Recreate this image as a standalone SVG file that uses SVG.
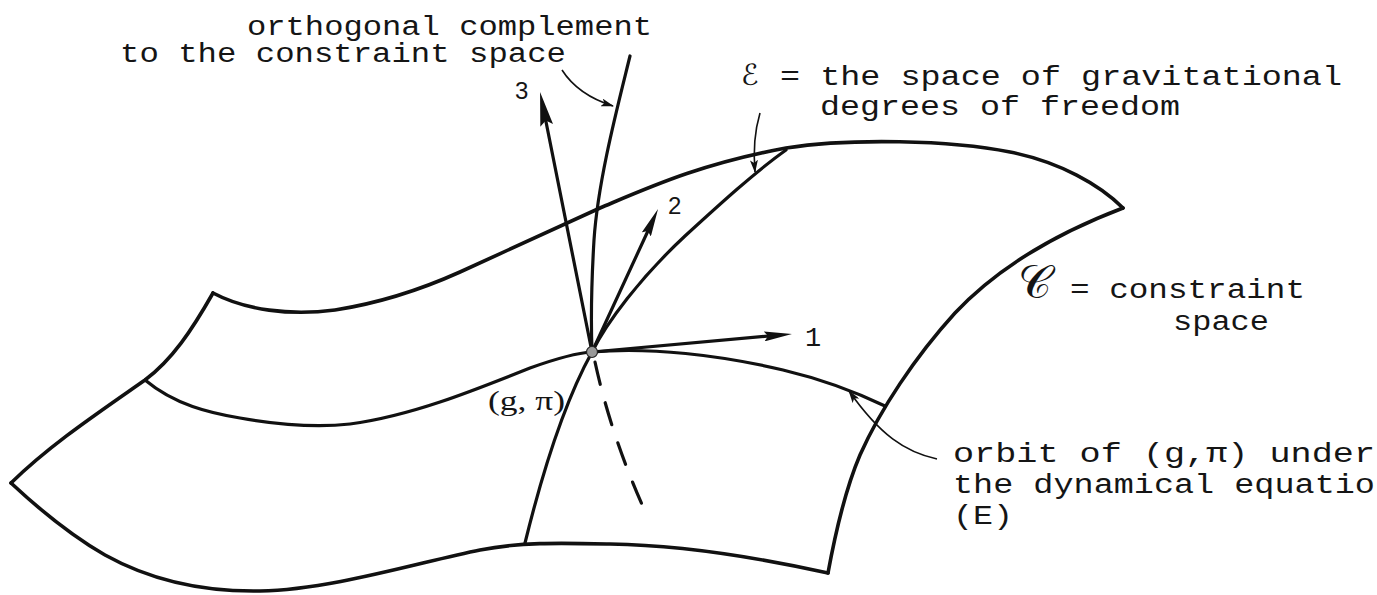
<svg xmlns="http://www.w3.org/2000/svg" width="1377" height="595" viewBox="0 0 1377 595">
<style>
.edge{fill:none;stroke:#111;stroke-width:3.6;stroke-linecap:round;stroke-linejoin:round}
.curve{fill:none;stroke:#111;stroke-width:3.2;stroke-linecap:round}
.vec{fill:none;stroke:#111;stroke-width:3.2;stroke-linecap:round}
.lead{fill:none;stroke:#111;stroke-width:1.6}
.tw{font-family:"Liberation Mono","DejaVu Sans Mono",monospace;font-size:27px;fill:#151515}
.num{font-family:"Liberation Sans","DejaVu Sans",sans-serif;font-size:24px;fill:#151515}
.ser{font-family:"Liberation Serif","DejaVu Serif",serif;font-size:28px;fill:#151515}
.scr{font-family:"DejaVu Serif","DejaVu Sans","Noto Sans",serif;fill:#151515}
</style>
<defs>
<marker id="ah" viewBox="0 0 28 10" markerUnits="userSpaceOnUse" markerWidth="28" markerHeight="10" refX="16" refY="5" orient="auto"><path d="M0,0 L28,5 L0,10 L4,5 z" fill="#111"/></marker>
<marker id="ahL" viewBox="0 0 34 13" markerUnits="userSpaceOnUse" markerWidth="34" markerHeight="13" refX="22" refY="6.5" orient="auto"><path d="M0,0 L34,6.5 L0,13 L5,6.5 z" fill="#111"/></marker>
<marker id="ahs" viewBox="0 0 13 8" markerUnits="userSpaceOnUse" markerWidth="13" markerHeight="8" refX="12" refY="4" orient="auto"><path d="M0,0 L13,4 L0,8 L3,4 z" fill="#111"/></marker>
</defs>
<g id="surface">
<path class="edge" d="M213,293 C245,310 290,316 335,310 C380,303 420,290 460,272 C520,245 560,226 600,208 C650,187 700,164 786,148 C850,138 950,140 1010,152 C1060,162 1100,185 1123,208"/>
<path class="edge" d="M1123,208 C1060,232 1000,265 955,313 C915,357 880,410 860,455 C845,490 835,535 828,573"/>
<path class="edge" d="M828,573 C760,558 680,545 610,544 C560,543 520,542 480,550 C420,562 330,590 260,591 C200,592 150,580 105,555 C70,535 40,510 11,483"/>
<path class="edge" d="M11,483 C50,445 95,415 145,380 C172,360 192,330 213,293"/>
</g>
<g id="orbit-curve">
<path class="curve" d="M145,380 C175,405 210,413 240,418 C280,425 315,428 350,424 C410,416 470,392 530,368 C555,359 575,353 592,352 C650,347 720,355 783,370 C825,380 860,394 885,406"/>
</g>
<g id="E-curve">
<path class="curve" d="M525,543 C538,490 560,410 592,352 C607,322 640,278 685,236 C720,204 755,172 786,150"/>
</g>
<g id="orthogonal-line">
<path class="curve" d="M630,56 C618,105 598,180 594,240 C591,290 591,325 592,352"/>
<path class="curve" stroke-dasharray="23 19" d="M595,362 Q612,440 649,520"/>
</g>
<g id="vectors">
<path class="vec" marker-end="url(#ahL)" d="M592,352 L542.4,103.8"/>
<path class="vec" marker-end="url(#ah)" d="M592,352 L653,220"/>
<path class="vec" marker-end="url(#ah)" d="M592,352 L780,335"/>
<circle id="point" cx="592" cy="352" r="5.5" fill="#999" stroke="#222" stroke-width="1.2"/>
</g>
<g id="connectors">
<path class="lead" marker-end="url(#ahs)" d="M562,70 Q578,95 613,106"/>
<path class="lead" marker-end="url(#ahs)" d="M760,113 C755,130 753,150 755,172"/>
<path class="lead" marker-end="url(#ahs)" d="M937,459 C905,452 880,435 849,391"/>
</g>
<g id="labels">
<text class="tw" x="247" y="35" font-size="25" textLength="405" lengthAdjust="spacingAndGlyphs">orthogonal complement</text>
<text class="tw" x="120" y="62" font-size="25" textLength="446" lengthAdjust="spacingAndGlyphs">to the constraint space</text>
<text class="scr" x="741" y="85" font-size="29">ℰ</text>
<text class="tw" x="780" y="85" textLength="562" lengthAdjust="spacingAndGlyphs">= the space of gravitational</text>
<text class="tw" x="820" y="115" textLength="360" lengthAdjust="spacingAndGlyphs">degrees of freedom</text>
<text class="scr" x="1018" y="298" font-size="46">𝒞</text>
<text class="tw" x="1070" y="298" textLength="235" lengthAdjust="spacingAndGlyphs">= constraint</text>
<text class="tw" x="1173" y="330" textLength="96" lengthAdjust="spacingAndGlyphs">space</text>
<text class="tw" x="953" y="462" textLength="422" lengthAdjust="spacingAndGlyphs">orbit of  (g,π) under</text>
<text class="tw" x="953" y="493" textLength="442" lengthAdjust="spacingAndGlyphs">the dynamical equation</text>
<text class="tw" x="953" y="524" textLength="60" lengthAdjust="spacingAndGlyphs">(E)</text>
<text class="ser" x="488" y="410" textLength="77" lengthAdjust="spacingAndGlyphs">(g, π)</text>
<text class="num" x="515" y="99">3</text>
<text class="num" x="668" y="214">2</text>
<text class="tw" x="805" y="346" font-size="24">1</text>
</g>
</svg>
